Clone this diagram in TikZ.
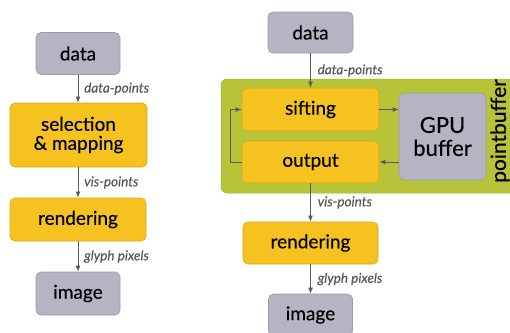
\documentclass[tikz,border=0pt]{standalone}
\usepackage{fontspec}
\setmainfont{Lato}[FakeBold=0.35]
\usetikzlibrary{arrows.meta}
\definecolor{boxgray}{HTML}{B4B4C2}
\definecolor{boxgrayedge}{HTML}{9C9CA8}
\definecolor{boxyellow}{HTML}{F6C21F}
\definecolor{boxyellowedge}{HTML}{DCA514}
\definecolor{pbgreen}{HTML}{B7C43A}
\definecolor{pbgreenedge}{HTML}{A5B230}
\definecolor{arrgray}{HTML}{5A5A5A}
\definecolor{lblgray}{HTML}{575757}
\tikzset{
  graybox/.style={draw=boxgrayedge, fill=boxgray, rounded corners=5pt, line width=0.6pt, inner sep=0pt, font=\fontsize{19}{20}\selectfont},
  yellowbox/.style={draw=boxyellowedge, fill=boxyellow, rounded corners=5pt, line width=0.6pt, inner sep=0pt, font=\fontsize{19}{20}\selectfont, align=center},
  arr/.style={draw=arrgray, line width=1pt, -{Latex[length=6pt,width=5pt]}},
  lbl/.style={font=\fontsize{13.5}{15}\selectfont\itshape, text=lblgray, anchor=west, inner sep=0pt}
}
\begin{document}
\begin{tikzpicture}[x=1pt,y=-1pt]
\useasboundingbox (0,0) rectangle (510,332);
% left pipeline
\node[graybox, minimum width=84pt, minimum height=42pt] (dataL) at (78,53.5) {data};
\node[yellowbox, minimum width=137pt, minimum height=64pt] (selL) at (78.5,135) {selection\\[-1pt]\& mapping};
\node[yellowbox, minimum width=136pt, minimum height=43pt] (rendL) at (78,219.5) {rendering};
\node[graybox, minimum width=84pt, minimum height=43pt] (imgL) at (78,293.5) {image};
\draw[arr] (dataL.south) -- (dataL.south |- selL.north) coordinate[midway] (m1);
\draw[arr] (selL.south -| dataL.south) -- (rendL.north -| dataL.south) coordinate[midway] (m2);
\draw[arr] (rendL.south -| dataL.south) -- (imgL.north) coordinate[midway] (m3);
\node[lbl] (l1) at ([xshift=6pt]m1) {data-points};
\node[lbl] (l2) at ([xshift=6pt]m2) {vis-points};
\node[lbl] (l3) at ([xshift=6pt]m3) {glyph pixels};
% right pipeline
\fill[pbgreen, rounded corners=6pt] (221,79) rectangle (530,193);
\draw[pbgreenedge, line width=0.5pt, rounded corners=6pt] (530,79) -- (221,79) -- (221,193) -- (530,193);
\node[rotate=90, font=\fontsize{21}{22}\selectfont, inner sep=0pt] (pbl) at (500,131) {pointbuffer};
\node[graybox, minimum width=85pt, minimum height=41pt] (dataR) at (310.5,32.5) {data};
\node[yellowbox, minimum width=137pt, minimum height=43pt] (sift) at (310.5,109.5) {sifting};
\node[yellowbox, minimum width=137pt, minimum height=42pt] (out) at (310.5,162) {output};
\node[graybox, minimum width=87pt, minimum height=87pt, align=center, font=\fontsize{22}{23}\selectfont] (gpu) at (442.5,136.5) {GPU\\buffer};
\node[yellowbox, minimum width=135pt, minimum height=42pt] (rendR) at (310.5,243) {rendering};
\node[graybox, minimum width=84pt, minimum height=42pt] (imgR) at (310.5,315) {image};
\draw[arr] (dataR.south) -- (sift.north) coordinate[midway] (n1);
\draw[arr] (sift.east) -- (sift.east -| gpu.west);
\draw[arr] (gpu.west |- out.east) -- (out.east);
\draw[arr] (out.west) -- ++(-11,0) |- (sift.west);
\draw[arr] (out.south) -- (rendR.north) coordinate[midway] (n2);
\draw[arr] (rendR.south) -- (imgR.north) coordinate[midway] (n3);
\node[lbl] (r1) at ([xshift=7pt]n1) {data-points};
\node[lbl] (r2) at ([xshift=7pt]n2) {vis-points};
\node[lbl] (r3) at ([xshift=7pt]n3) {glyph pixels};
\end{tikzpicture}
\end{document}
